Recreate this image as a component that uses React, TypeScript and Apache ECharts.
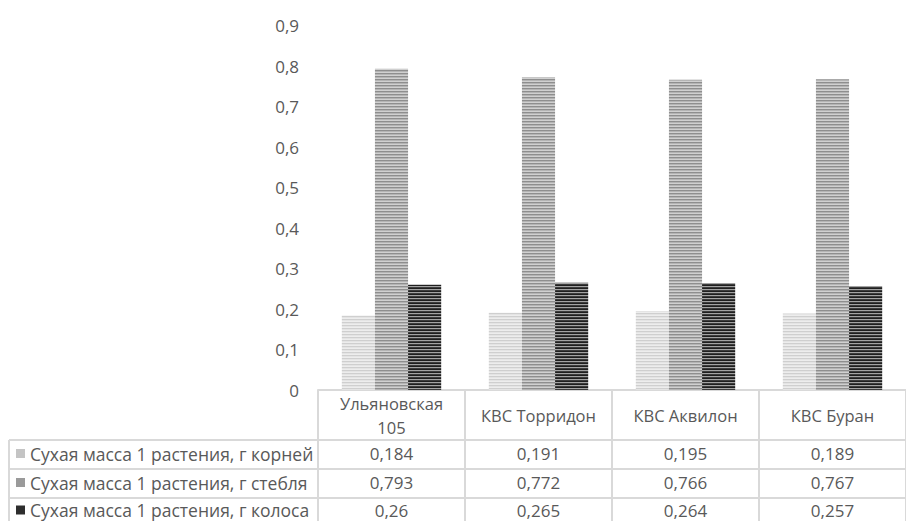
import React, { useEffect, useRef } from 'react';
import * as echarts from 'echarts';

const categories = ['Ульяновская\n105', 'КВС Торридон', 'КВС Аквилон', 'КВС Буран'];
const seriesNames = [
  'Сухая масса 1 растения, г корней',
  'Сухая масса 1 растения, г стебля',
  'Сухая масса 1 растения, г колоса',
];
const rootsMass = [0.184, 0.191, 0.195, 0.189];
const stemMass = [0.793, 0.772, 0.766, 0.767];
const earMass = [0.26, 0.265, 0.264, 0.257];
const yMin = 0;
const yMax = 0.9;
const yStep = 0.1;

const FONT = '"Open Sans", "Noto Sans", sans-serif';
const TXT = '#595959';
const BORDER = '#d9d9d9';

function stripe(colors: string[]) {
  const c = document.createElement('canvas');
  c.width = 4;
  c.height = colors.length;
  const ctx = c.getContext('2d')!;
  colors.forEach((col, i) => {
    ctx.fillStyle = col;
    ctx.fillRect(0, i, 4, 1);
  });
  return {
    image: c.toDataURL(),
    repeat: 'repeat',
    imageWidth: 4,
    imageHeight: colors.length,
  } as any;
}

const fmt = (v: number) => String(v).replace('.', ',');

export default function App() {
  const ref = useRef<HTMLDivElement>(null);
  useEffect(() => {
    if (!ref.current) return;
    const chart = echarts.init(ref.current, undefined, { renderer: 'svg' });
    const patterns = [
      stripe(['#ededed', '#cfcfcf', '#e4e4e4']),
      stripe(['#d0d0d0', '#8e8e8e', '#b4b4b4']),
      stripe(['#1f1f1f', '#a3a3a3', '#3c3c3c']),
    ];
    const swatch = ['#c4c4c4', '#9a9a9a', '#2e2e2e'];
    const values = [rootsMass, stemMass, earMass];
    chart.setOption({
      animation: false,
      grid: { left: 318, top: 25.5, width: 598, height: 364.5 },
      xAxis: {
        type: 'category',
        data: categories,
        axisLine: { show: true, lineStyle: { color: BORDER, width: 2 } },
        axisTick: { show: true, interval: 0, length: 140, lineStyle: { color: BORDER, width: 2 } },
        axisLabel: {
          interval: 0,
          margin: 25,
          verticalAlign: 'middle',
          color: TXT,
          fontFamily: FONT,
          fontSize: 16.5,
          lineHeight: 24,
        },
        splitLine: { show: false },
      },
      yAxis: {
        type: 'value',
        min: yMin,
        max: yMax,
        interval: yStep,
        axisLine: { show: false },
        axisTick: { show: false },
        splitLine: { show: false },
        axisLabel: {
          margin: 19,
          color: TXT,
          fontFamily: FONT,
          fontSize: 17,
          formatter: (v: number) => fmt(Math.round(v * 10) / 10),
        },
      },
      series: values.map((vals, i) => ({
        name: seriesNames[i],
        type: 'bar',
        data: vals,
        barGap: '0%',
        barCategoryGap: '32.4%',
        itemStyle: { color: patterns[i] },
      })),
    });

    const rowTops = [440, 469, 498];
    const rowCenters = [453.5, 482.5, 510];
    const elements: any[] = [];
    rowTops.forEach((t) => {
      elements.push({
        type: 'line',
        shape: { x1: 9, y1: t, x2: 916, y2: t },
        style: { stroke: BORDER, lineWidth: 2 },
        silent: true,
      });
    });
    elements.push({
      type: 'line',
      shape: { x1: 9, y1: 440, x2: 9, y2: 530 },
      style: { stroke: BORDER, lineWidth: 2 },
      silent: true,
    });
    values.forEach((vals, r) => {
      const cy = rowCenters[r];
      elements.push({
        type: 'rect',
        shape: { x: 16, y: cy - 4.5, width: 9, height: 9 },
        style: { fill: swatch[r] },
        silent: true,
      });
      elements.push({
        type: 'text',
        x: 30,
        y: cy,
        style: {
          text: seriesNames[r],
          fill: TXT,
          font: `17.5px ${FONT}`,
          textAlign: 'left',
          textVerticalAlign: 'middle',
        },
        silent: true,
      });
      vals.forEach((v, c) => {
        const px = chart.convertToPixel({ xAxisIndex: 0 }, c) as number;
        elements.push({
          type: 'text',
          x: px,
          y: cy,
          style: {
            text: fmt(v),
            fill: TXT,
            font: `17px ${FONT}`,
            textAlign: 'center',
            textVerticalAlign: 'middle',
          },
          silent: true,
        });
      });
    });
    chart.setOption({ graphic: { elements } });
    return () => chart.dispose();
  }, []);
  return (
    <div
      ref={ref}
      style={{ position: 'absolute', left: 0, top: 0, width: 906, height: 521, background: '#fff' }}
    />
  );
}
